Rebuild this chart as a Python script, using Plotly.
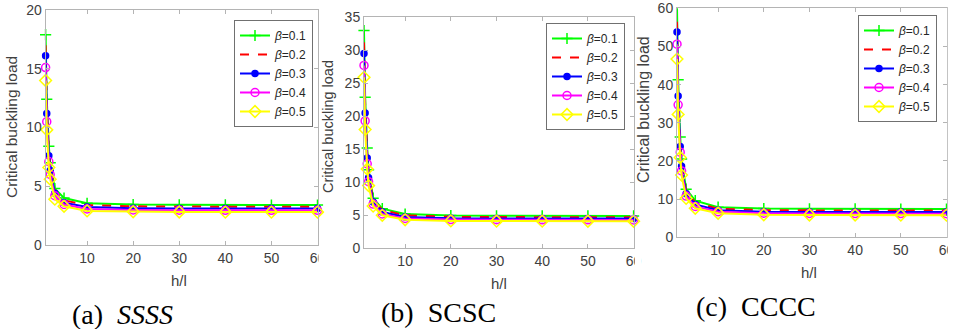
import plotly.graph_objects as go

W, H = 957, 329

# ---------------- data ----------------
h_l = [1, 1.25, 1.7, 2, 3, 5, 10, 20, 30, 40, 50, 60]
betas = ["0.1", "0.2", "0.3", "0.4", "0.5"]

# (a) SSSS
ssss_b1 = [17.9, 12.4, 8.4, 7.0, 4.8, 4.0, 3.55, 3.44, 3.42, 3.41, 3.40, 3.40]
ssss_b2 = [17.0, 11.8, 8.0, 6.7, 4.6, 3.8, 3.40, 3.29, 3.27, 3.26, 3.25, 3.25]
ssss_b3 = [16.1, 11.2, 7.6, 6.35, 4.4, 3.6, 3.23, 3.13, 3.11, 3.11, 3.10, 3.10]
ssss_b4 = [15.1, 10.5, 7.1, 6.0, 4.2, 3.45, 3.07, 2.98, 2.96, 2.95, 2.95, 2.95]
ssss_b5 = [14.0, 9.8, 6.6, 5.6, 3.9, 3.3, 2.90, 2.83, 2.81, 2.80, 2.80, 2.80]

# (b) SCSC
scsc_b1 = [33.0, 22.9, 15.2, 11.9, 7.6, 6.0, 5.2, 4.97, 4.93, 4.92, 4.91, 4.90]
scsc_b2 = [31.2, 21.7, 14.3, 11.3, 7.3, 5.8, 5.0, 4.77, 4.73, 4.72, 4.71, 4.70]
scsc_b3 = [29.5, 20.5, 13.7, 10.7, 7.0, 5.5, 4.75, 4.56, 4.53, 4.52, 4.51, 4.50]
scsc_b4 = [27.7, 19.3, 12.8, 10.1, 6.7, 5.2, 4.53, 4.36, 4.33, 4.32, 4.31, 4.30]
scsc_b5 = [25.9, 18.0, 12.0, 9.5, 6.4, 5.0, 4.32, 4.15, 4.12, 4.11, 4.10, 4.10]

# (c) CCCC
cccc_b1 = [60.2, 41.3, 26.3, 20.5, 12.6, 9.6, 7.9, 7.53, 7.46, 7.43, 7.42, 7.40]
cccc_b2 = [56.5, 38.9, 24.8, 19.4, 12.0, 9.1, 7.5, 7.12, 7.05, 7.03, 7.02, 7.00]
cccc_b3 = [53.8, 37.0, 23.8, 18.6, 11.4, 8.6, 7.1, 6.72, 6.65, 6.63, 6.62, 6.60]
cccc_b4 = [50.6, 34.7, 22.3, 17.4, 10.8, 8.1, 6.7, 6.31, 6.25, 6.23, 6.22, 6.20]
cccc_b5 = [46.7, 32.2, 20.9, 16.3, 10.2, 7.6, 6.3, 5.90, 5.85, 5.83, 5.82, 5.80]

x_ticks = [10, 20, 30, 40, 50, 60]
y_ticks_a = [0, 5, 10, 15, 20]
y_ticks_b = [0, 5, 10, 15, 20, 25, 30, 35]
y_ticks_c = [0, 10, 20, 30, 40, 50, 60]

panels = [
    dict(series=[ssss_b1, ssss_b2, ssss_b3, ssss_b4, ssss_b5], yr=[0, 20], yt=y_ticks_a,
         xpx=(45.6, 317.5), ypx=(245, 10), caption="(a)  <i>SSSS</i>", cap=(122, 314),
         hl=(179, 280), ylab=(12, 127, 15.5), leg=(313, 20)),
    dict(series=[scsc_b1, scsc_b2, scsc_b3, scsc_b4, scsc_b5], yr=[0, 35], yt=y_ticks_b,
         xpx=(364, 633.6), ypx=(248.3, 17.3), caption="(b)  SCSC", cap=(438, 312),
         hl=(499, 283), ylab=(328, 127, 14.5), leg=(625, 23)),
    dict(series=[cccc_b1, cccc_b2, cccc_b3, cccc_b4, cccc_b5], yr=[0, 60], yt=y_ticks_c,
         xpx=(677, 946.5), ypx=(237.3, 8.3), caption="(c)  CCCC", cap=(756, 306),
         hl=(809, 272), ylab=(643, 110, 16), leg=(937, 15)),
]

styles = [
    dict(color="#00ff00", dash="solid", symbol="cross-thin", size=8),
    dict(color="#ff0000", dash="dash", symbol=None, size=0),
    dict(color="#0000ff", dash="solid", symbol="circle", size=6),
    dict(color="#ff00ff", dash="solid", symbol="circle-open", size=8),
    dict(color="#ffff00", dash="solid", symbol="diamond-open", size=9),
]

fig = go.Figure()
AX = "#b4b4b4"
TICKC = "#404040"
tick_font = dict(family="Liberation Sans, Arial", size=14, color=TICKC)

for i, p in enumerate(panels):
    n = "" if i == 0 else str(i + 1)
    leg = "legend" if i == 0 else "legend" + str(i + 1)
    for s, ys in enumerate(p["series"]):
        st = styles[s]
        mode = "lines" if st["symbol"] is None else "lines+markers"
        marker = None
        if st["symbol"] is not None:
            marker = dict(symbol=st["symbol"], size=st["size"], color=st["color"],
                          line=dict(color=st["color"], width=1.5))
        fig.add_trace(go.Scatter(
            x=h_l, y=ys, mode=mode, name="<i>β</i>=" + betas[s],
            line=dict(color=st["color"], width=2, dash=st["dash"]),
            marker=marker, cliponaxis=False,
            xaxis="x" + n, yaxis="y" + n, legend=leg, showlegend=True))

    x0, x1 = p["xpx"]
    yb, yt = p["ypx"]
    common = dict(showline=True, linecolor=AX, linewidth=1, mirror="ticks",
                  ticks="inside", ticklen=4, tickcolor=AX, showgrid=False,
                  zeroline=False, tickfont=tick_font, automargin=False)
    fig.update_layout(**{
        "xaxis" + n: dict(domain=[x0 / W, x1 / W], range=[1, 60], tickvals=x_ticks,
                          anchor="y" + n, **common),
        "yaxis" + n: dict(domain=[1 - yb / H, 1 - yt / H], range=p["yr"], tickvals=p["yt"],
                          anchor="x" + n, **common),
        leg: dict(x=p["leg"][0] / W, y=1 - p["leg"][1] / H, xanchor="right", yanchor="top",
                  bgcolor="white", bordercolor="#707070", borderwidth=1,
                  font=dict(family="Liberation Sans, Arial", size=12, color="#262626"),
                  itemwidth=30, tracegroupgap=0),
    })
    fig.add_annotation(x=p["hl"][0] / W, y=1 - p["hl"][1] / H, xref="paper", yref="paper",
                       xanchor="center", yanchor="middle",
                       text="h/l", showarrow=False,
                       font=dict(family="Liberation Sans, Arial", size=15, color=TICKC))
    fig.add_annotation(x=p["ylab"][0] / W, y=1 - p["ylab"][1] / H, xref="paper", yref="paper",
                       xanchor="center", yanchor="middle",
                       text="Critical buckling load", showarrow=False, textangle=-90,
                       font=dict(family="Liberation Sans, Arial", size=p["ylab"][2], color=TICKC))
    fig.add_annotation(x=p["cap"][0] / W, y=1 - p["cap"][1] / H, xref="paper", yref="paper",
                       xanchor="center", yanchor="middle",
                       text=p["caption"], showarrow=False,
                       font=dict(family="Liberation Serif, Times New Roman", size=28, color="black"))

# crop masks emulating the cut panel edges
for (xa, xb, ya, yb2) in [(318.5, 326, 250, 278), (634.8, 641, 250, 278), (947.8, 957, 0, 329)]:
    fig.add_shape(type="rect", xref="paper", yref="paper", x0=xa / W, x1=xb / W,
                  y0=1 - yb2 / H, y1=1 - ya / H, fillcolor="white", line=dict(width=0),
                  layer="above")

fig.update_layout(width=W, height=H, margin=dict(l=0, r=0, t=0, b=0, pad=0, autoexpand=False),
                  paper_bgcolor="white", plot_bgcolor="white")
fig.write_html("out.html", config={"displayModeBar": False},
               post_script="document.body.style.margin='0';document.body.style.padding='0';"
                           "document.body.style.overflow='hidden';")
